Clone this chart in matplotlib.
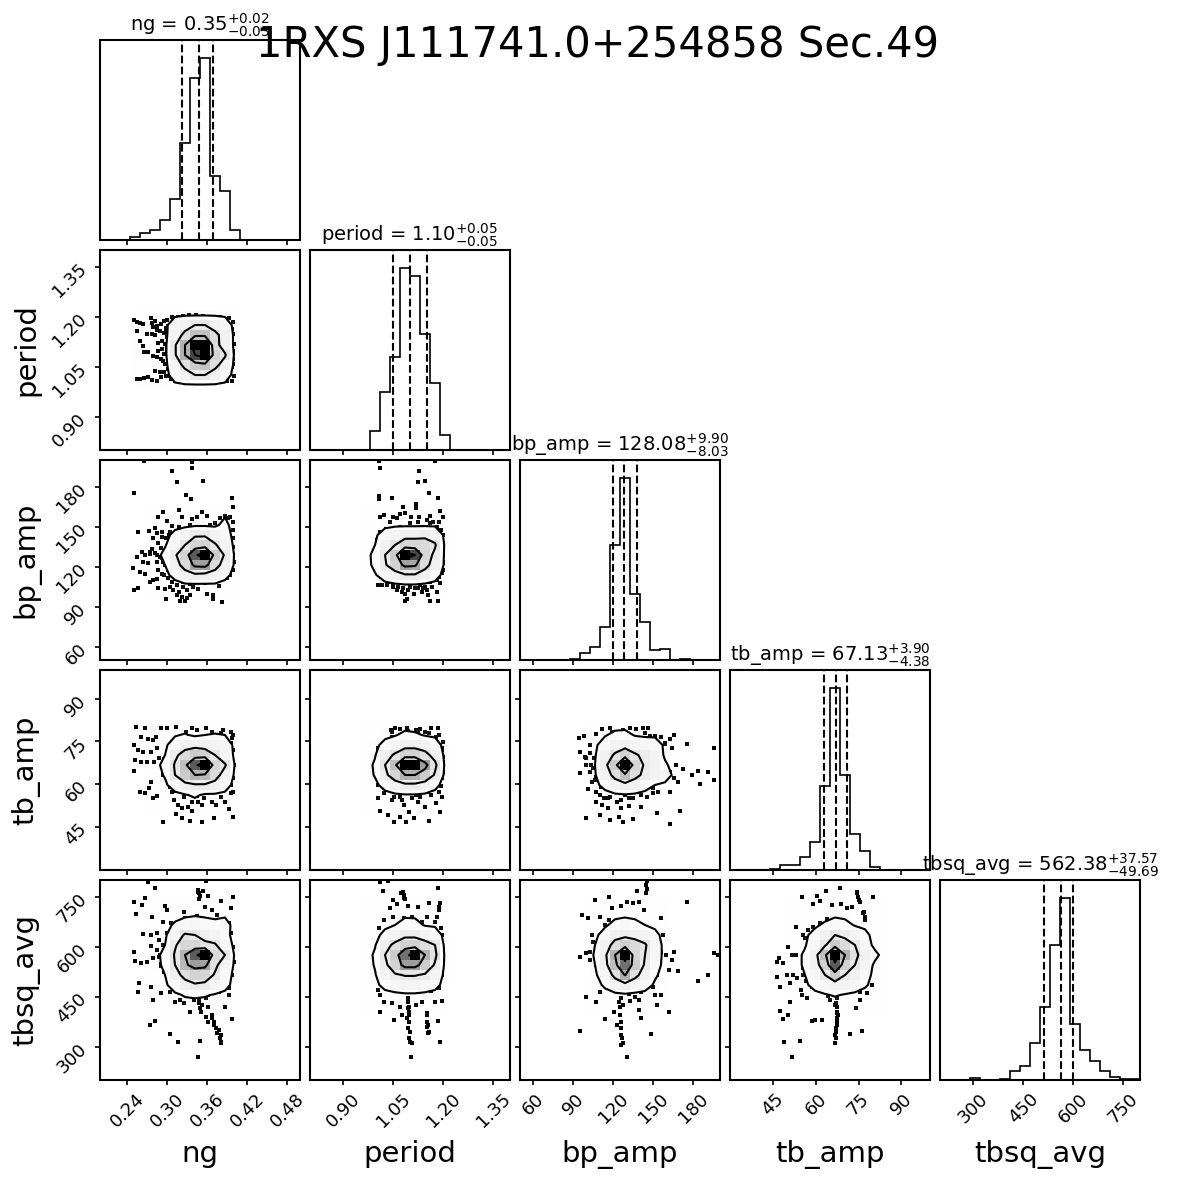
import numpy as np
import matplotlib
matplotlib.use("Agg")
import matplotlib.pyplot as plt
from matplotlib.colors import LinearSegmentedColormap

plt.rcParams['axes.linewidth'] = 1.5
plt.rcParams['xtick.major.width'] = 1.2
plt.rcParams['ytick.major.width'] = 1.2

title = "1RXS J111741.0+254858 Sec.49"
labels = ["ng", "period", "bp_amp", "tb_amp", "tbsq_avg"]
ranges = [(0.199, 0.499), (0.80, 1.40), (50., 200.), (30., 100.), (200., 800.)]
ticks = [[0.24, 0.30, 0.36, 0.42, 0.48], [0.90, 1.05, 1.20, 1.35],
         [60, 90, 120, 150, 180], [45, 60, 75, 90], [300, 450, 600, 750]]
tick_fmt = ["%.2f", "%.2f", "%d", "%d", "%d"]

# median, +err, -err shown in the titles
title_vals = [(0.35, 0.02, 0.03), (1.10, 0.05, 0.05), (128.08, 9.90, 8.03),
              (67.13, 3.90, 4.38), (562.38, 37.57, 49.69)]
# 16/50/84 % quantiles (dashed lines)
quantiles = [(0.322, 0.347, 0.369), (1.05, 1.10, 1.15), (120.05, 128.08, 137.98),
             (62.75, 67.13, 71.03), (512.69, 562.38, 599.95)]

# 1d histograms, 20 bins over each range
hist_ng = [0, 0, 0, 8, 21, 30, 60, 123, 288, 483, 542, 190, 146, 30, 0, 0, 0, 0, 0, 0]
hist_period = [0, 0, 0, 0, 0, 0, 56, 173, 278, 542, 520, 345, 201, 46, 0, 0, 0, 0, 0, 0]
hist_bp = [0, 0, 0, 0, 0, 2, 20, 40, 100, 343, 543, 198, 112, 31, 34, 1, 3, 1, 1, 1]
hist_tb = [0, 0, 0, 0, 3, 16, 16, 40, 85, 251, 543, 285, 108, 57, 10, 0, 0, 0, 0, 0]
hist_tbsq = [0, 0, 0, 5, 0, 1, 2, 26, 42, 110, 218, 404, 543, 166, 90, 56, 26, 8, 3, 2]
hists = [hist_ng, hist_period, hist_bp, hist_tb, hist_tbsq]

# 2d density cores (peak = 100), rows top -> bottom
H_period_ng = [[3, 4, 4, 5, 8, 9, 9, 9, 9, 8, 4],
               [3, 4, 5, 7, 18, 22, 30, 30, 22, 18, 6],
               [3, 4, 5, 7, 20, 35, 50, 50, 35, 22, 7],
               [3, 4, 5, 7, 28, 55, 100, 100, 36, 22, 7],
               [3, 4, 5, 7, 28, 55, 85, 100, 42, 32, 7],
               [3, 4, 5, 7, 20, 35, 45, 48, 35, 22, 7],
               [3, 4, 5, 6, 16, 22, 30, 30, 22, 16, 6],
               [3, 4, 5, 5, 8, 9, 9, 9, 9, 8, 4]]
H_bp_ng = [[2, 2, 3, 3, 3, 4, 4, 4, 9, 3],
           [2, 3, 4, 6, 7, 8, 8, 8, 13, 5],
           [3, 4, 6, 14, 20, 28, 28, 20, 16, 6],
           [4, 5, 9, 18, 30, 40, 42, 32, 20, 7],
           [4, 6, 13, 28, 42, 80, 100, 45, 28, 8],
           [4, 5, 10, 22, 38, 60, 62, 38, 22, 8],
           [3, 4, 7, 14, 22, 26, 24, 22, 14, 6],
           [3, 3, 4, 6, 8, 8, 8, 8, 6, 4],
           [2, 2, 3, 3, 4, 4, 4, 4, 3, 2]]
H_bp_period = [[2, 3, 3, 4, 4, 4, 4, 3, 2],
               [3, 5, 7, 8, 8, 8, 8, 8, 4],
               [4, 8, 16, 20, 24, 24, 26, 22, 7],
               [4, 10, 22, 30, 40, 40, 38, 32, 8],
               [5, 14, 30, 45, 100, 85, 40, 26, 8],
               [5, 13, 28, 42, 60, 58, 36, 22, 8],
               [4, 9, 16, 22, 28, 28, 22, 15, 6],
               [3, 5, 7, 8, 9, 9, 8, 7, 4],
               [2, 3, 3, 4, 4, 4, 4, 3, 2]]
H_tb_ng = [[2, 3, 3, 4, 4, 4, 4, 4, 3, 2],
           [3, 4, 6, 9, 11, 8, 10, 11, 10, 6],
           [3, 5, 8, 16, 22, 24, 22, 20, 18, 7],
           [4, 6, 10, 26, 38, 45, 42, 30, 18, 8],
           [4, 7, 13, 32, 50, 80, 100, 40, 32, 9],
           [4, 6, 11, 30, 45, 55, 52, 38, 22, 8],
           [3, 5, 8, 16, 25, 28, 28, 24, 16, 6],
           [3, 4, 5, 7, 9, 12, 8, 8, 7, 4],
           [2, 3, 3, 4, 4, 5, 4, 4, 3, 2]]
H_tb_period = [[2, 3, 3, 4, 6, 5, 4, 3, 2],
               [3, 5, 7, 9, 13, 12, 9, 8, 4],
               [3, 7, 14, 20, 24, 24, 22, 16, 6],
               [4, 9, 24, 32, 42, 42, 35, 24, 7],
               [4, 12, 30, 50, 100, 100, 62, 34, 8],
               [4, 11, 26, 40, 55, 55, 45, 28, 7],
               [3, 7, 15, 22, 26, 26, 22, 14, 5],
               [2, 4, 6, 8, 9, 9, 8, 6, 3],
               [2, 3, 3, 4, 4, 4, 4, 3, 2]]
H_tb_bp = [[2, 3, 4, 6, 6, 4, 3, 3, 3, 2],
           [3, 5, 9, 13, 14, 9, 8, 8, 5, 3],
           [4, 8, 16, 22, 24, 20, 18, 16, 8, 4],
           [5, 9, 22, 32, 42, 32, 26, 20, 8, 4],
           [5, 10, 26, 45, 100, 40, 28, 22, 12, 5],
           [5, 9, 22, 35, 50, 35, 26, 22, 18, 6],
           [4, 7, 14, 22, 25, 22, 16, 10, 7, 4],
           [3, 4, 6, 8, 9, 8, 6, 5, 4, 3],
           [2, 3, 3, 4, 4, 4, 3, 3, 2, 2]]
H_tbsq_ng = [[2, 2, 3, 3, 4, 4, 4, 3, 3, 2],
             [2, 3, 4, 6, 8, 9, 8, 7, 8, 3],
             [3, 4, 6, 12, 16, 18, 16, 14, 16, 5],
             [3, 5, 8, 20, 32, 30, 24, 20, 14, 6],
             [4, 6, 10, 28, 40, 40, 34, 32, 18, 7],
             [4, 7, 13, 32, 55, 80, 100, 38, 30, 8],
             [4, 7, 12, 30, 52, 62, 60, 34, 20, 8],
             [4, 6, 10, 24, 35, 42, 40, 28, 16, 7],
             [3, 5, 8, 16, 24, 28, 26, 20, 14, 6],
             [3, 4, 6, 8, 11, 12, 11, 9, 7, 4],
             [2, 3, 4, 5, 6, 6, 6, 5, 4, 3],
             [2, 2, 3, 3, 4, 4, 4, 3, 3, 2]]
H_tbsq_period = [[2, 2, 3, 3, 4, 4, 3, 3, 2],
                 [2, 3, 4, 6, 8, 8, 6, 5, 3],
                 [3, 4, 7, 10, 15, 14, 9, 8, 4],
                 [3, 6, 14, 20, 26, 26, 22, 18, 6],
                 [4, 9, 24, 34, 42, 42, 36, 30, 7],
                 [4, 12, 30, 45, 75, 100, 55, 34, 8],
                 [4, 11, 26, 42, 62, 62, 45, 28, 8],
                 [4, 9, 20, 28, 31, 31, 28, 20, 7],
                 [3, 7, 14, 18, 20, 20, 18, 14, 6],
                 [3, 4, 6, 7, 8, 8, 7, 6, 4],
                 [2, 3, 4, 4, 5, 5, 4, 4, 3]]
H_tbsq_bp = [[2, 2, 3, 4, 5, 4, 3, 2, 2],
             [2, 3, 5, 7, 8, 7, 6, 4, 3],
             [3, 4, 8, 14, 16, 14, 10, 7, 4],
             [4, 7, 16, 24, 26, 24, 20, 14, 5],
             [5, 10, 22, 36, 44, 38, 32, 18, 6],
             [5, 11, 26, 55, 100, 40, 30, 18, 6],
             [5, 10, 24, 50, 75, 45, 28, 16, 6],
             [4, 8, 18, 35, 56, 35, 22, 12, 5],
             [3, 6, 12, 20, 24, 20, 16, 8, 4],
             [3, 4, 6, 7, 8, 7, 6, 5, 3],
             [2, 3, 4, 4, 5, 4, 4, 3, 2]]
H_tbsq_tb = [[2, 2, 3, 3, 4, 5, 4, 3, 3, 2, 2],
             [2, 3, 4, 5, 6, 8, 7, 6, 4, 3, 2],
             [3, 4, 6, 8, 12, 16, 14, 9, 7, 4, 2],
             [3, 5, 8, 14, 22, 30, 26, 20, 14, 5, 3],
             [4, 6, 9, 18, 28, 45, 38, 30, 18, 6, 3],
             [4, 6, 12, 24, 50, 100, 55, 34, 22, 14, 4],
             [4, 6, 12, 22, 42, 80, 42, 30, 20, 7, 3],
             [4, 6, 10, 18, 30, 45, 30, 24, 16, 6, 3],
             [3, 5, 8, 14, 18, 22, 20, 18, 12, 5, 3],
             [3, 4, 5, 7, 9, 11, 9, 7, 5, 4, 2],
             [2, 3, 3, 4, 5, 5, 5, 4, 3, 3, 2]]

# samples outside the outer contour
pts_period_ng = [(0.2505, 1.190), (0.254, 1.183), (0.259, 1.180), (0.264, 1.178), (0.275, 1.196),
    (0.2765, 1.180), (0.2815, 1.186), (0.284, 1.172), (0.290, 1.178), (0.295, 1.186), (0.300, 1.190),
    (0.309, 1.196), (0.3165, 1.200), (0.324, 1.203), (0.333, 1.204), (0.343, 1.204), (0.353, 1.202),
    (0.3615, 1.200), (0.370, 1.196), (0.379, 1.198), (0.3865, 1.192), (0.393, 1.196), (0.255, 1.156),
    (0.259, 1.128), (0.263, 1.113), (0.270, 1.148), (0.2765, 1.148), (0.2815, 1.146), (0.2865, 1.120),
    (0.2915, 1.128), (0.295, 1.150), (0.298, 1.166), (0.265, 1.093), (0.2715, 1.093), (0.278, 1.083),
    (0.284, 1.078), (0.290, 1.073), (0.295, 1.088), (0.299, 1.106), (0.297, 1.058), (0.3005, 1.043),
    (0.295, 1.033), (0.254, 1.012), (0.259, 1.014), (0.265, 1.016), (0.2715, 1.020), (0.277, 1.010),
    (0.284, 1.008), (0.290, 1.018), (0.298, 1.023), (0.305, 1.013), (0.312, 1.008), (0.320, 1.006),
    (0.329, 1.006), (0.339, 1.006), (0.350, 1.008), (0.364, 1.008), (0.374, 1.013), (0.3815, 1.008),
    (0.389, 1.008), (0.3965, 1.006), (0.395, 1.128), (0.398, 1.098), (0.399, 1.073), (0.399, 1.148),
    (0.390, 1.033), (0.3965, 1.048), (0.3015, 1.173), (0.303, 1.156), (0.300, 1.138), (0.302, 1.118),
    (0.299, 1.098), (0.303, 1.078), (0.301, 1.058), (0.304, 1.038), (0.3065, 1.026), (0.2965, 1.118),
    (0.293, 1.068), (0.298, 1.153), (0.398, 1.183), (0.3965, 1.163), (0.400, 1.118), (0.399, 1.088),
    (0.398, 1.058), (0.400, 1.023), (0.3165, 1.013), (0.334, 1.010), (0.3565, 1.013), (0.370, 1.008),
    (0.334, 1.198), (0.344, 1.200), (0.3565, 1.198), (0.3065, 1.198), (0.279, 1.168), (0.284, 1.160),
    (0.289, 1.156), (0.2915, 1.103), (0.2865, 1.098), (0.2815, 1.038), (0.289, 1.033), (0.299, 1.023),
    (0.309, 1.018)]
pts_bp_ng = [(0.265, 199.2), (0.3365, 198.2), (0.3365, 194.2), (0.3075, 191.8), (0.315, 183.2),
    (0.354, 184.2), (0.250, 175.0), (0.3965, 171.2), (0.398, 165.0), (0.328, 173.8), (0.335, 170.8),
    (0.318, 162.5), (0.293, 160.8), (0.2865, 157.5), (0.300, 154.2), (0.3215, 157.5), (0.3365, 155.8),
    (0.344, 157.5), (0.3515, 160.8), (0.360, 158.2), (0.3715, 152.5), (0.379, 156.2), (0.3865, 158.2),
    (0.394, 157.5), (0.2815, 149.2), (0.273, 146.8), (0.2565, 145.8), (0.279, 141.2), (0.2915, 142.5),
    (0.303, 143.8), (0.3065, 150.8), (0.334, 151.2), (0.398, 147.5), (0.399, 141.2), (0.398, 135.0),
    (0.398, 128.8), (0.3965, 122.5), (0.399, 117.5), (0.394, 113.8), (0.2765, 133.2), (0.2615, 130.8),
    (0.2665, 128.8), (0.274, 129.2), (0.284, 128.8), (0.254, 127.5), (0.2915, 126.2), (0.264, 123.2),
    (0.2715, 122.5), (0.249, 119.2), (0.259, 116.2), (0.2665, 114.2), (0.2865, 117.5), (0.2915, 114.2),
    (0.279, 110.0), (0.274, 108.8), (0.284, 110.8), (0.3015, 111.2), (0.3065, 108.8), (0.314, 106.2),
    (0.250, 102.5), (0.2565, 103.8), (0.2865, 104.2), (0.2965, 103.2), (0.318, 101.2), (0.324, 105.0),
    (0.329, 102.5), (0.334, 98.8), (0.319, 94.2), (0.3265, 94.2), (0.298, 95.8), (0.344, 109.2),
    (0.349, 111.2), (0.3565, 107.5), (0.359, 99.2), (0.368, 98.8), (0.369, 95.8), (0.378, 105.8),
    (0.3815, 93.2), (0.389, 111.2), (0.2865, 137.5), (0.290, 133.8), (0.2965, 121.2), (0.3015, 117.5),
    (0.309, 113.2), (0.315, 110.8), (0.324, 108.2), (0.334, 106.8), (0.3415, 110.8), (0.354, 113.8),
    (0.370, 110.8), (0.3815, 111.8), (0.3965, 128.8), (0.400, 123.8), (0.393, 143.8), (0.389, 151.2),
    (0.3815, 150.0), (0.364, 151.2), (0.318, 150.0), (0.304, 146.2), (0.298, 141.2), (0.284, 123.8),
    (0.295, 113.8), (0.3915, 156.2), (0.398, 153.8), (0.2915, 146.2), (0.284, 145.0), (0.274, 131.2),
    (0.2815, 130.0), (0.289, 127.5), (0.294, 123.8), (0.304, 105.0), (0.309, 102.5), (0.315, 98.8),
    (0.3215, 97.5), (0.329, 96.2), (0.339, 105.0), (0.3465, 103.2)]
pts_bp_period = [(1.008, 199.2), (1.010, 194.2), (1.175, 199.2), (1.128, 191.8), (1.125, 183.8),
    (1.145, 184.2), (1.158, 175.0), (1.185, 171.2), (1.006, 173.2), (1.006, 170.8), (1.045, 171.2),
    (1.080, 165.0), (1.118, 166.8), (1.118, 163.8), (1.022, 158.8), (1.010, 157.5), (1.050, 157.5),
    (1.070, 159.2), (1.085, 160.0), (1.102, 157.5), (1.128, 157.5), (1.160, 158.2), (1.190, 161.8),
    (1.200, 157.5), (1.188, 153.8), (1.160, 152.5), (1.100, 152.5), (1.038, 147.5), (1.020, 143.8),
    (1.198, 143.8), (1.200, 137.5), (1.002, 128.8), (1.002, 118.8), (1.005, 115.0), (1.200, 122.5),
    (1.198, 117.5), (1.015, 106.2), (1.030, 106.2), (1.050, 106.8), (1.080, 108.8), (1.100, 105.0),
    (1.115, 103.8), (1.130, 106.2), (1.145, 105.0), (1.160, 108.8), (1.180, 110.0), (1.188, 112.5),
    (1.075, 101.2), (1.060, 102.5), (1.085, 99.2), (1.112, 99.2), (1.135, 101.2), (1.155, 98.8),
    (1.180, 101.2), (1.085, 94.2), (1.090, 95.8), (1.160, 94.2), (1.185, 94.2), (1.140, 103.8),
    (1.005, 106.2), (1.002, 140.0), (1.000, 135.0), (1.005, 123.8), (1.008, 117.5), (1.012, 112.5),
    (1.025, 110.0), (1.040, 110.8), (1.010, 145.8), (1.028, 148.2), (1.198, 132.5), (1.200, 128.8),
    (1.195, 115.0), (1.170, 110.8), (1.130, 108.8), (1.100, 107.5), (1.065, 105.0), (1.192, 147.5),
    (1.180, 150.0), (1.140, 150.0), (1.070, 150.0), (1.010, 128.8), (1.012, 123.8), (1.015, 118.8),
    (1.020, 115.0), (1.035, 108.8), (1.050, 105.0), (1.080, 104.2), (1.095, 102.5), (1.125, 103.8),
    (1.150, 102.5), (1.165, 105.0), (1.190, 107.5), (1.200, 123.8), (1.040, 153.8), (1.060, 156.2),
    (1.125, 153.8), (1.150, 155.0), (1.170, 153.8)]
pts_tb_ng = [(0.2525, 80.2), (0.2666, 79.6), (0.2605, 76.7), (0.271, 75.8), (0.279, 75.5),
    (0.283, 76.7), (0.291, 79.6), (0.300, 79.8), (0.3125, 80.2), (0.337, 79.6), (0.344, 79.0),
    (0.3585, 79.6), (0.380, 77.8), (0.398, 77.2), (0.250, 73.8), (0.2562, 72.0), (0.2636, 71.4),
    (0.276, 71.2), (0.285, 72.8), (0.2513, 68.5), (0.2605, 67.9), (0.2697, 67.7), (0.2807, 67.9),
    (0.288, 69.1), (0.294, 64.6), (0.250, 64.6), (0.2587, 57.4), (0.2666, 56.8), (0.2727, 58.6),
    (0.279, 55.3), (0.285, 56.0), (0.2758, 60.9), (0.3033, 59.2), (0.3125, 57.6), (0.3095, 54.5),
    (0.3156, 52.8), (0.3217, 51.6), (0.3309, 52.2), (0.337, 50.6), (0.3462, 53.9), (0.3554, 55.1),
    (0.361, 58.0), (0.3676, 53.9), (0.380, 55.7), (0.3951, 56.8), (0.392, 51.4), (0.3125, 49.5),
    (0.3217, 48.1), (0.334, 47.2), (0.352, 46.9), (0.3707, 48.1), (0.293, 46.7), (0.398, 48.7),
    (0.3951, 59.8), (0.3951, 74.3), (0.397, 69.7), (0.297, 66.8), (0.293, 63.2), (0.299, 61.5),
    (0.3033, 60.3), (0.3095, 59.5), (0.3156, 58.0), (0.3248, 58.8), (0.331, 56.8), (0.344, 56.0),
    (0.3615, 57.6), (0.374, 57.4), (0.386, 58.3), (0.398, 62.1), (0.3995, 66.8), (0.398, 72.0),
    (0.397, 76.1), (0.3064, 74.9), (0.3156, 76.1), (0.300, 71.4), (0.295, 68.8), (0.3095, 73.8),
    (0.3186, 74.3), (0.328, 78.4), (0.3676, 78.4), (0.383, 79.0), (0.395, 78.4), (0.395, 64.4),
    (0.398, 57.4), (0.3064, 57.4), (0.3248, 55.7), (0.337, 53.9), (0.3523, 52.8), (0.3737, 52.8),
    (0.386, 53.9)]
pts_tb_period = [(1.043, 79.0), (1.0555, 79.8), (1.092, 79.6), (1.119, 79.0), (1.162, 79.8),
    (1.183, 79.6), (1.046, 76.7), (1.048, 74.3), (1.070, 77.2), (1.144, 78.4), (1.178, 76.7),
    (1.199, 74.9), (1.195, 72.6), (1.199, 69.7), (1.003, 72.0), (1.003, 67.9), (1.007, 64.4),
    (1.009, 61.5), (1.0115, 60.3), (1.003, 55.1), (1.021, 58.6), (1.040, 58.0), (1.0555, 57.2),
    (1.070, 55.7), (1.0886, 57.6), (1.119, 56.2), (1.150, 57.4), (1.174, 58.6), (1.1926, 59.5),
    (1.1955, 55.7), (1.046, 54.5), (1.0825, 52.8), (1.097, 50.4), (1.144, 52.2), (1.178, 53.3),
    (1.190, 50.4), (1.0115, 50.6), (1.0335, 49.2), (1.070, 48.7), (1.0886, 46.9), (1.113, 48.1),
    (1.158, 47.2), (1.052, 46.7), (1.125, 53.9), (1.199, 64.4), (1.0066, 70.2), (1.0115, 66.8),
    (1.019, 63.2), (1.027, 61.2), (1.043, 59.8), (1.070, 58.8), (1.107, 58.3), (1.1376, 59.2),
    (1.168, 60.7), (1.195, 62.1), (1.199, 67.9), (1.195, 72.0), (1.180, 74.7), (1.125, 77.8),
    (1.0947, 78.6), (1.021, 74.3), (1.003, 72.6), (1.003, 63.2), (1.003, 59.8), (1.021, 56.8),
    (1.052, 55.7), (1.076, 54.5), (1.107, 55.1), (1.1315, 55.7), (1.162, 56.2), (1.1865, 57.4),
    (1.046, 78.4), (1.070, 79.3), (1.1315, 79.3), (1.156, 77.8), (1.1865, 77.2)]
pts_tb_bp = [(94.2, 76.3), (97.9, 77.0), (107.1, 77.5), (111.7, 79.4), (117.8, 79.6), (132.2, 79.8),
    (137.1, 79.3), (142.3, 79.8), (146.2, 79.6), (147.5, 77.0), (155.4, 76.7), (159.1, 74.3),
    (165.8, 77.2), (175.0, 74.0), (195.8, 72.6), (94.8, 71.4), (98.5, 69.7), (102.5, 70.8),
    (99.4, 66.8), (102.5, 64.2), (94.8, 63.8), (106.5, 61.5), (101.0, 58.4), (107.1, 57.4),
    (110.7, 59.2), (113.2, 55.3), (117.8, 55.7), (107.1, 53.7), (111.7, 52.8), (116.2, 51.6),
    (122.4, 53.9), (125.4, 51.6), (131.6, 52.5), (134.6, 55.1), (140.7, 52.2), (145.3, 55.7),
    (149.9, 58.6), (153.6, 57.4), (99.4, 48.1), (110.2, 49.2), (117.8, 47.5), (123.9, 48.7),
    (127.0, 46.9), (134.6, 47.8), (153.0, 49.8), (162.2, 46.0), (169.8, 50.6), (179.0, 63.2),
    (183.6, 64.6), (191.3, 64.4), (185.1, 60.0), (195.8, 61.5), (166.8, 66.8), (162.2, 64.4),
    (168.3, 60.9), (172.0, 65.3), (151.5, 77.0), (137.1, 75.2), (105.5, 69.1), (104.6, 65.6),
    (107.1, 62.7), (111.7, 60.3), (119.3, 57.6), (128.5, 56.2), (137.7, 57.4), (145.3, 58.8),
    (154.5, 63.2), (157.6, 66.8), (156.1, 72.0), (159.1, 74.0), (114.7, 75.5), (119.3, 78.4),
    (127.0, 79.0), (153.0, 74.7), (138.3, 75.8), (102.5, 73.8), (99.4, 69.1), (103.4, 66.8),
    (104.0, 60.9), (110.2, 56.2), (116.2, 55.1), (125.4, 54.5), (131.6, 55.1), (140.7, 56.2),
    (149.9, 56.8), (162.2, 57.4), (165.2, 62.1), (163.7, 72.6), (162.2, 75.8), (143.8, 77.8)]
pts_tbsq_ng = [(0.271, 793), (0.282, 777), (0.250, 735), (0.262, 725), (0.2666, 747), (0.297, 723),
    (0.300, 710), (0.346, 765), (0.348, 743), (0.354, 767), (0.3585, 797), (0.3615, 753), (0.3566, 720),
    (0.3676, 710), (0.374, 695), (0.381, 737), (0.398, 750), (0.395, 715), (0.2526, 697), (0.277, 690),
    (0.3248, 703), (0.294, 675), (0.306, 670), (0.2636, 637), (0.2758, 635), (0.285, 640), (0.288, 620),
    (0.2758, 603), (0.285, 590), (0.250, 585), (0.251, 557), (0.2605, 550), (0.2697, 555), (0.279, 565),
    (0.288, 570), (0.291, 543), (0.2575, 490), (0.2562, 463), (0.2758, 480), (0.279, 440), (0.291, 460),
    (0.3033, 465), (0.311, 435), (0.3187, 440), (0.334, 405), (0.3248, 430), (0.340, 440), (0.3523, 425),
    (0.3615, 420), (0.3664, 395), (0.3707, 375), (0.3768, 350), (0.380, 335), (0.381, 310), (0.386, 420),
    (0.392, 455), (0.397, 383), (0.282, 377), (0.2746, 365), (0.3033, 337), (0.3156, 315), (0.349, 318),
    (0.346, 270), (0.3585, 447), (0.293, 605), (0.2893, 575), (0.291, 547), (0.2954, 525), (0.3015, 503),
    (0.3095, 485), (0.3235, 470), (0.337, 455), (0.348, 443), (0.3615, 455), (0.377, 463), (0.392, 475),
    (0.397, 515), (0.3994, 555), (0.398, 600), (0.395, 640), (0.393, 670), (0.380, 667), (0.3645, 675),
    (0.344, 693), (0.326, 685), (0.3095, 660), (0.299, 640), (0.3676, 385), (0.3707, 365), (0.3725, 355),
    (0.375, 340), (0.3787, 325), (0.380, 315), (0.348, 430), (0.349, 415), (0.3505, 403), (0.3585, 390),
    (0.3615, 375), (0.348, 760), (0.349, 753), (0.346, 770)]
pts_tbsq_period = [(1.0115, 793), (1.0335, 797), (1.019, 767), (1.073, 760), (1.0825, 747),
    (1.048, 740), (1.040, 717), (1.060, 727), (1.095, 723), (1.125, 720), (1.156, 730), (1.183, 777),
    (1.1865, 710), (1.180, 690), (1.174, 675), (1.193, 655), (1.195, 635), (1.150, 690), (1.1375, 675),
    (1.107, 690), (1.083, 687), (1.048, 690), (1.021, 680), (1.0066, 655), (1.0115, 625), (1.003, 470),
    (1.009, 455), (1.021, 435), (1.0115, 405), (1.046, 430), (1.070, 420), (1.095, 415), (1.092, 385),
    (1.095, 355), (1.097, 325), (1.1045, 270), (1.052, 380), (1.076, 395), (1.119, 425), (1.1375, 435),
    (1.150, 395), (1.1535, 365), (1.156, 345), (1.190, 313), (1.183, 377), (1.174, 435), (1.195, 437),
    (1.107, 310), (1.003, 605), (1.003, 575), (1.0066, 545), (1.0115, 515), (1.021, 495), (1.046, 480),
    (1.070, 470), (1.101, 463), (1.1315, 470), (1.162, 467), (1.1865, 475), (1.195, 515), (1.199, 555),
    (1.195, 600), (1.180, 630), (1.1437, 640), (1.107, 665), (1.0825, 680), (1.052, 655), (1.0274, 630),
    (1.0115, 600), (1.0947, 445), (1.0947, 435), (1.096, 420), (1.097, 405), (1.097, 395), (1.098, 375),
    (1.0996, 345), (1.101, 315), (1.150, 400), (1.151, 375), (1.152, 360), (1.1535, 340), (1.080, 765),
    (1.0825, 755), (1.085, 743), (1.1865, 720), (1.190, 730)]
pts_tbsq_bp = [(145.3, 797), (137.7, 767), (144.4, 760), (106.5, 740), (116.9, 750), (119.3, 717),
    (125.4, 723), (130.0, 735), (134.6, 730), (139.2, 735), (143.2, 710), (175.0, 733), (96.4, 695),
    (101.0, 685), (110.1, 690), (113.8, 665), (120.8, 675), (156.1, 685), (148.4, 650), (151.5, 630),
    (157.6, 635), (94.8, 570), (99.4, 580), (102.5, 560), (107.1, 605), (104.0, 635), (156.1, 583),
    (159.7, 575), (163.7, 560), (165.8, 583), (161.6, 530), (168.3, 527), (183.6, 497), (191.3, 515),
    (195.2, 580), (198.3, 575), (99.4, 450), (107.1, 435), (110.2, 465), (94.8, 347), (113.8, 383),
    (120.8, 405), (122.4, 365), (125.4, 335), (125.4, 305), (130.0, 270), (132.2, 437), (139.2, 410),
    (140.7, 385), (148.4, 337), (153.0, 425), (161.6, 403), (156.1, 455), (151.5, 455), (102.5, 585),
    (104.6, 615), (110.2, 635), (115.6, 655), (116.9, 680), (125.4, 675), (134.6, 670), (143.8, 655),
    (149.3, 635), (152.4, 595), (153.0, 555), (152.4, 515), (149.9, 480), (140.7, 465), (131.6, 457),
    (123.9, 465), (116.2, 480), (111.7, 505), (107.1, 545), (125.4, 445), (127.0, 425), (124.2, 435),
    (124.8, 420), (125.1, 395), (125.4, 375), (126.1, 355), (126.4, 325), (127.0, 310), (144.4, 785),
    (145.0, 773), (136.2, 450), (139.2, 440)]
pts_tbsq_tb = [(63.6, 767), (68.5, 777), (74.3, 765), (75.3, 740), (80.2, 750), (55.1, 750),
    (60.6, 753), (58.9, 727), (61.5, 737), (65.6, 725), (68.7, 727), (70.8, 715), (72.6, 720),
    (76.4, 700), (77.3, 680), (53.1, 660), (57.4, 650), (59.2, 660), (61.5, 670), (64.1, 683),
    (55.4, 635), (56.3, 625), (50.4, 600), (51.6, 575), (53.1, 575), (47.3, 565), (46.6, 553),
    (48.4, 550), (46.3, 510), (49.8, 515), (51.9, 515), (51.0, 490), (53.3, 505), (47.5, 480),
    (54.7, 470), (55.1, 455), (57.1, 445), (51.0, 435), (47.5, 407), (48.7, 383), (50.4, 395),
    (58.6, 377), (59.8, 380), (62.1, 380), (65.0, 440), (66.7, 425), (67.3, 405), (67.9, 395),
    (67.3, 375), (67.1, 355), (66.8, 335), (66.8, 310), (75.5, 440), (74.1, 417), (76.1, 347),
    (72.0, 337), (48.9, 315), (54.5, 317), (51.6, 270), (77.8, 460), (79.6, 485), (75.5, 465),
    (79.2, 545), (55.7, 515), (55.4, 535), (56.3, 565), (57.4, 590), (59.2, 615), (61.5, 635),
    (63.6, 655), (66.2, 680), (69.4, 670), (72.2, 655), (75.3, 637), (76.9, 605), (80.2, 577),
    (78.4, 545), (77.8, 505), (76.7, 485), (73.2, 475), (70.2, 465), (67.3, 447), (64.4, 453),
    (61.5, 470), (58.6, 480), (56.6, 497), (67.1, 430), (67.3, 420), (67.6, 400), (67.6, 385),
    (67.3, 365), (67.1, 345), (67.0, 325), (74.6, 760), (74.9, 750), (75.5, 735), (76.9, 705),
    (77.4, 690)]

# (row, col): density grid, first x bin, lowest y bin, points
panels = {
    (1, 0): (H_period_ng, 3, 6, pts_period_ng),
    (2, 0): (H_bp_ng, 4, 6, pts_bp_ng),
    (2, 1): (H_bp_period, 5, 6, pts_bp_period),
    (3, 0): (H_tb_ng, 4, 6, pts_tb_ng),
    (3, 1): (H_tb_period, 5, 6, pts_tb_period),
    (3, 2): (H_tb_bp, 6, 6, pts_tb_bp),
    (4, 0): (H_tbsq_ng, 4, 6, pts_tbsq_ng),
    (4, 1): (H_tbsq_period, 5, 7, pts_tbsq_period),
    (4, 2): (H_tbsq_bp, 6, 7, pts_tbsq_bp),
    (4, 3): (H_tbsq_tb, 5, 7, pts_tbsq_tb),
}

contour_levels = [10, 30, 55, 85]
density_cmap = LinearSegmentedColormap.from_list("density_cmap", ["k", (1, 1, 1, 0)])
nbins = 20


def draw_hist2d(ax, xr, yr, grid, i0, j0, pts):
    H = np.zeros((nbins, nbins))
    Hw = np.array(grid, dtype=float)[::-1]
    ny, nx = Hw.shape
    H[i0:i0 + nx, j0:j0 + ny] = Hw.T
    xe = np.linspace(xr[0], xr[1], nbins + 1)
    ye = np.linspace(yr[0], yr[1], nbins + 1)
    xc = 0.5 * (xe[1:] + xe[:-1])
    yc = 0.5 * (ye[1:] + ye[:-1])

    px, py = zip(*pts)
    ax.plot(px, py, 's', ms=2.3, mew=0, color='k', zorder=1)
    ax.contourf(xc, yc, H.T, [contour_levels[0], H.max()], colors=['white'],
                antialiased=False, zorder=2)
    ax.pcolormesh(xe, ye, H.max() - H.T, cmap=density_cmap, zorder=3)
    ax.contour(xc, yc, H.T, contour_levels, colors='k', linewidths=1.5, zorder=4)


fig, axes = plt.subplots(5, 5, figsize=(11.8, 11.8), dpi=100)
fig.subplots_adjust(left=100 / 1180., right=1140 / 1180., bottom=100 / 1180., top=1140 / 1180.,
                    wspace=0.05, hspace=0.05)

n = len(labels)
for row in range(n):
    for col in range(n):
        ax = axes[row, col]
        if col > row:
            ax.set_axis_off()
            continue
        xr = ranges[col]
        if row == col:
            edges = np.linspace(xr[0], xr[1], nbins + 1)
            centers = 0.5 * (edges[1:] + edges[:-1])
            ax.hist(centers, bins=edges, weights=hists[col], histtype='step', color='k', lw=1.2)
            for q in quantiles[col]:
                ax.axvline(q, ls='dashed', color='k', lw=1.5)
            ax.set_ylim(0, 1.1 * max(hists[col]))
            ax.set_yticks([])
            med, up, lo = title_vals[col]
            ax.set_title(r"%s = $%.2f_{-%.2f}^{+%.2f}$" % (labels[col], med, lo, up), fontsize=14)
        else:
            grid, i0, j0, pts = panels[(row, col)]
            draw_hist2d(ax, xr, ranges[row], grid, i0, j0, pts)
            ax.set_ylim(ranges[row])
            ax.set_yticks(ticks[row])
            if col == 0:
                ax.set_yticklabels([tick_fmt[row] % t for t in ticks[row]], rotation=45, fontsize=13)
                ax.set_ylabel(labels[row], fontsize=21)
                ax.yaxis.set_label_coords(-0.3, 0.5)
            else:
                ax.set_yticklabels([])
        ax.set_xlim(xr)
        ax.set_xticks(ticks[col])
        if row == n - 1:
            ax.set_xticklabels([tick_fmt[col] % t for t in ticks[col]], rotation=45, fontsize=13)
            ax.set_xlabel(labels[col], fontsize=21)
            ax.xaxis.set_label_coords(0.5, -0.3)
        else:
            ax.set_xticklabels([])

fig.text(0.506, 1 - 57 / 1180., title, ha='center', va='baseline', fontsize=30)

plt.savefig('out.png', dpi=100)
